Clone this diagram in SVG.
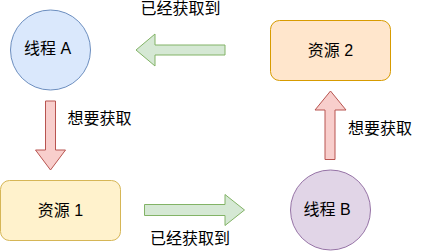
<svg xmlns="http://www.w3.org/2000/svg" width="421" height="251" viewBox="0 0 421 251">
<style>
text{font-family:"Liberation Sans","Noto Sans CJK SC",sans-serif;font-size:16px;fill:#000;}
.c{text-anchor:middle;dominant-baseline:central;}
.green{fill:#d5e8d4;stroke:#82b366;stroke-width:1;}
.red{fill:#f8cecc;stroke:#b85450;stroke-width:1;}
</style>
<rect width="421" height="251" fill="#fff"/>
<g id="connectors">
<polygon class="green" points="225,45 155,45 155,34 136,50 155,66 155,55 225,55"/>
<polygon class="red" points="45.5,101 55.5,101 55.5,150 65.5,150 50.5,170 35.5,150 45.5,150"/>
<polygon class="green" points="144.5,204.5 225,204.5 225,194.5 244.5,210 225,225.5 225,215.5 144.5,215.5"/>
<polygon class="red" points="325,159.5 335,159.5 335,110 346,110 330.5,91 315,110 325,110"/>
<text class="c" x="180.5" y="8.5">已经获取到</text>
<text class="c" x="99.5" y="118">想要获取</text>
<text class="c" x="190" y="238">已经获取到</text>
<text class="c" x="380" y="128">想要获取</text>
</g>
<g id="threadA">
<circle cx="50.5" cy="50" r="40" fill="#dae8fc" stroke="#6c8ebf"/>
<text class="c" x="47.5" y="48">线程 A</text>
</g>
<g id="resource2">
<rect x="270.5" y="20.5" width="120" height="60" rx="9" fill="#ffe6cc" stroke="#d79b00"/>
<text class="c" x="330.5" y="50">资源 2</text>
</g>
<g id="resource1">
<rect x="0.5" y="180.5" width="120" height="60" rx="9" fill="#fff2cc" stroke="#d6b656"/>
<text class="c" x="60.5" y="210">资源 1</text>
</g>
<g id="threadB">
<circle cx="330.5" cy="210" r="40" fill="#e1d5e7" stroke="#9673a6"/>
<text class="c" x="327" y="209">线程 B</text>
</g>
</svg>
